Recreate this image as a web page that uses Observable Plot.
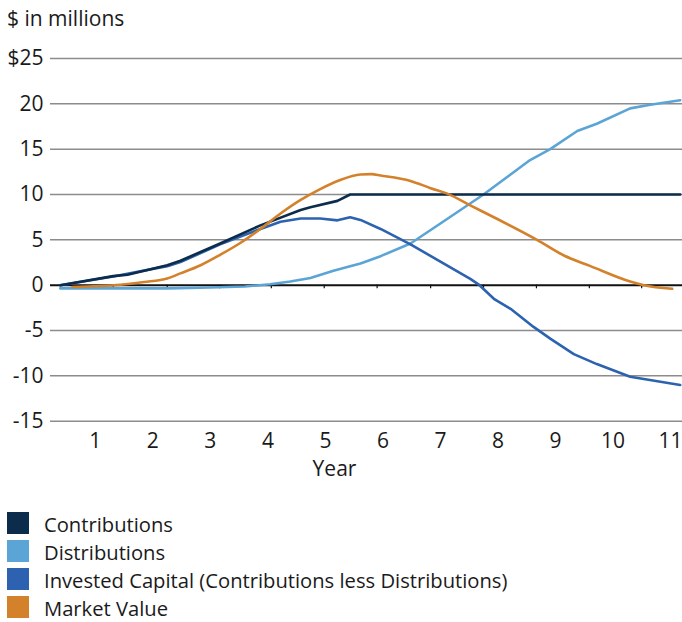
<!DOCTYPE html>
<html>
<head>
<meta charset="utf-8">
<script src="https://cdn.jsdelivr.net/npm/d3@7"></script>
<script src="https://cdn.jsdelivr.net/npm/@observablehq/plot@0.6"></script>
<style>
  body { margin: 0; background: #fff; font-family: "Open Sans", Lato, sans-serif; color: #1a1a1a; }
  #wrap { position: relative; width: 682px; height: 622px; overflow: hidden; }
  #title { position: absolute; left: 7px; top: 8px; font-size: 21px; line-height: 21px; }
  #chart { position: absolute; left: 0; top: 40px; }
  #legend { position: absolute; left: 7px; top: 509px; }
  .row { display: flex; align-items: center; height: 28px; }
  .sw { width: 22px; height: 22px; margin-right: 15px; flex: none; }
  .lab { font-size: 20.2px; line-height: 20px; position: relative; top: 1px; white-space: nowrap; }
</style>
</head>
<body>
<div id="wrap">
  <div id="title">$ in millions</div>
  <div id="chart"></div>
  <div id="legend"></div>
</div>
<script>
// ---- data (years, $ millions) ----
const seriesNames = ["Contributions", "Distributions", "Invested Capital (Contributions less Distributions)", "Market Value"];
const seriesColors = ["#0c2c4b", "#5ba4d6", "#2c62b0", "#d4812b"];

const contribYears  = [0.39, 1.31, 1.56, 2.25, 2.48, 3.17, 3.87, 4.57, 4.74, 5.21, 5.43, 11.17];
const contribValues = [0,    1.0,  1.15, 2.2,  2.7,  4.6,  6.6,  8.3,  8.6,  9.3,  10.0, 10.0];

const distribYears  = [0.39, 2.25, 3.0, 3.6, 4.04, 4.39, 4.74, 5.14, 5.43, 5.61, 5.96, 6.48, 7.0, 7.75, 8.22, 8.56, 8.91, 9.38, 9.72, 10.3, 10.65, 11.17];
const distribValues = [-0.35, -0.35, -0.25, -0.15, 0.1, 0.4, 0.8, 1.6, 2.1, 2.4, 3.2, 4.6, 6.8, 10.0, 12.2, 13.8, 15.0, 17.0, 17.8, 19.5, 19.9, 20.4];

const investedYears  = [0.39, 1.31, 2.25, 2.48, 3.17, 3.87, 4.22, 4.57, 4.91, 5.21, 5.43, 5.61, 5.96, 6.48, 7.0, 7.52, 7.68, 7.93, 8.22, 8.62, 8.91, 9.32, 9.72, 10.3, 10.59, 11.17];
const investedValues = [0,    0.95, 2.1,  2.55, 4.5,  6.2,  7.0,  7.35, 7.35, 7.15, 7.5,  7.2,  6.2,  4.5,  2.6, 0.7,  0,    -1.5, -2.6, -4.6, -5.9, -7.6, -8.7, -10.1, -10.4, -11.0];

const marketYears  = [0.6, 1.44, 1.85, 2.25, 2.48, 2.83, 3.17, 3.52, 3.87, 4.22, 4.57, 4.91, 5.26, 5.61, 5.8, 5.96, 6.48, 6.83, 7.12, 7.52, 7.99, 8.68, 9.14, 9.61, 10.3, 10.54, 11.03];
const marketValues = [-0.2, 0.05, 0.35, 0.75, 1.3, 2.2,  3.35, 4.65, 6.2,  7.9,  9.4,  10.6, 11.6, 12.2, 12.25, 12.1, 11.5, 10.7, 10.1, 8.8,  7.3,  5.0,  3.3,  2.1,  0.4,  0.0,  -0.4];

const xLabels = [1, 2, 3, 4, 5, 6, 7, 8, 9, 10, 11];
const xTickMarks = [1.31, 2.25, 3.16, 4.06, 4.98, 5.90, 6.83, 7.75, 8.67, 9.59, 10.5];
const yTicks = [-15, -10, -5, 0, 5, 10, 15, 20, 25];

// ---- build table ----
const toRows = (name, xs, ys) => xs.map((x, i) => ({series: name, year: x, value: ys[i]}));
const rows = [
  ...toRows(seriesNames[1], distribYears, distribValues),
  ...toRows(seriesNames[2], investedYears, investedValues),
  ...toRows(seriesNames[0], contribYears, contribValues),
];
const marketRows = toRows(seriesNames[3], marketYears, marketValues);

const font = "'Open Sans', Lato, sans-serif";
const chart = Plot.plot({
  width: 682,
  height: 470,
  marginLeft: 50,
  marginRight: 0,
  marginTop: 18,
  marginBottom: 89.3,
  style: {fontFamily: font, fontSize: "21px", color: "#1a1a1a", background: "white"},
  x: {domain: [0.22, 11.21]},
  y: {domain: [-15, 25]},
  color: {domain: seriesNames, range: seriesColors},
  marks: [
    Plot.ruleY(yTicks.filter(d => d !== 0), {stroke: "#8c8c8c", strokeWidth: 1.5}),
    Plot.axisY(yTicks, {tickSize: 0, tickPadding: 7, tickFormat: d => d === 25 ? "$25" : String(d), fontSize: 21, label: null}),
    Plot.axisX(xLabels, {tickSize: 0, tickPadding: 12, tickFormat: d => String(d), fontSize: 21, label: null}),
    Plot.ruleY([0], {stroke: "#111", strokeWidth: 2}),
    Plot.ruleX(xTickMarks, {x: d => d, y1: 0, y2: -0.4, stroke: "#111", strokeWidth: 1.2}),
    Plot.line(rows, {x: "year", y: "value", z: "series", stroke: "series", strokeWidth: 2.6, strokeLinejoin: "round"}),
    Plot.line(marketRows, {x: "year", y: "value", stroke: "series", strokeWidth: 2.6, curve: "monotone-x"}),
    Plot.text(["Year"], {frameAnchor: "bottom", lineAnchor: "middle", dx: -32, dy: 48, fontSize: 21, fill: "#1a1a1a"})
  ]
});
document.getElementById("chart").appendChild(chart);

// ---- legend ----
const legend = document.getElementById("legend");
seriesNames.forEach((name, i) => {
  const row = document.createElement("div");
  row.className = "row";
  row.innerHTML = `<div class="sw" style="background:${seriesColors[i]}"></div><div class="lab">${name}</div>`;
  legend.appendChild(row);
});
</script>
</body>
</html>
